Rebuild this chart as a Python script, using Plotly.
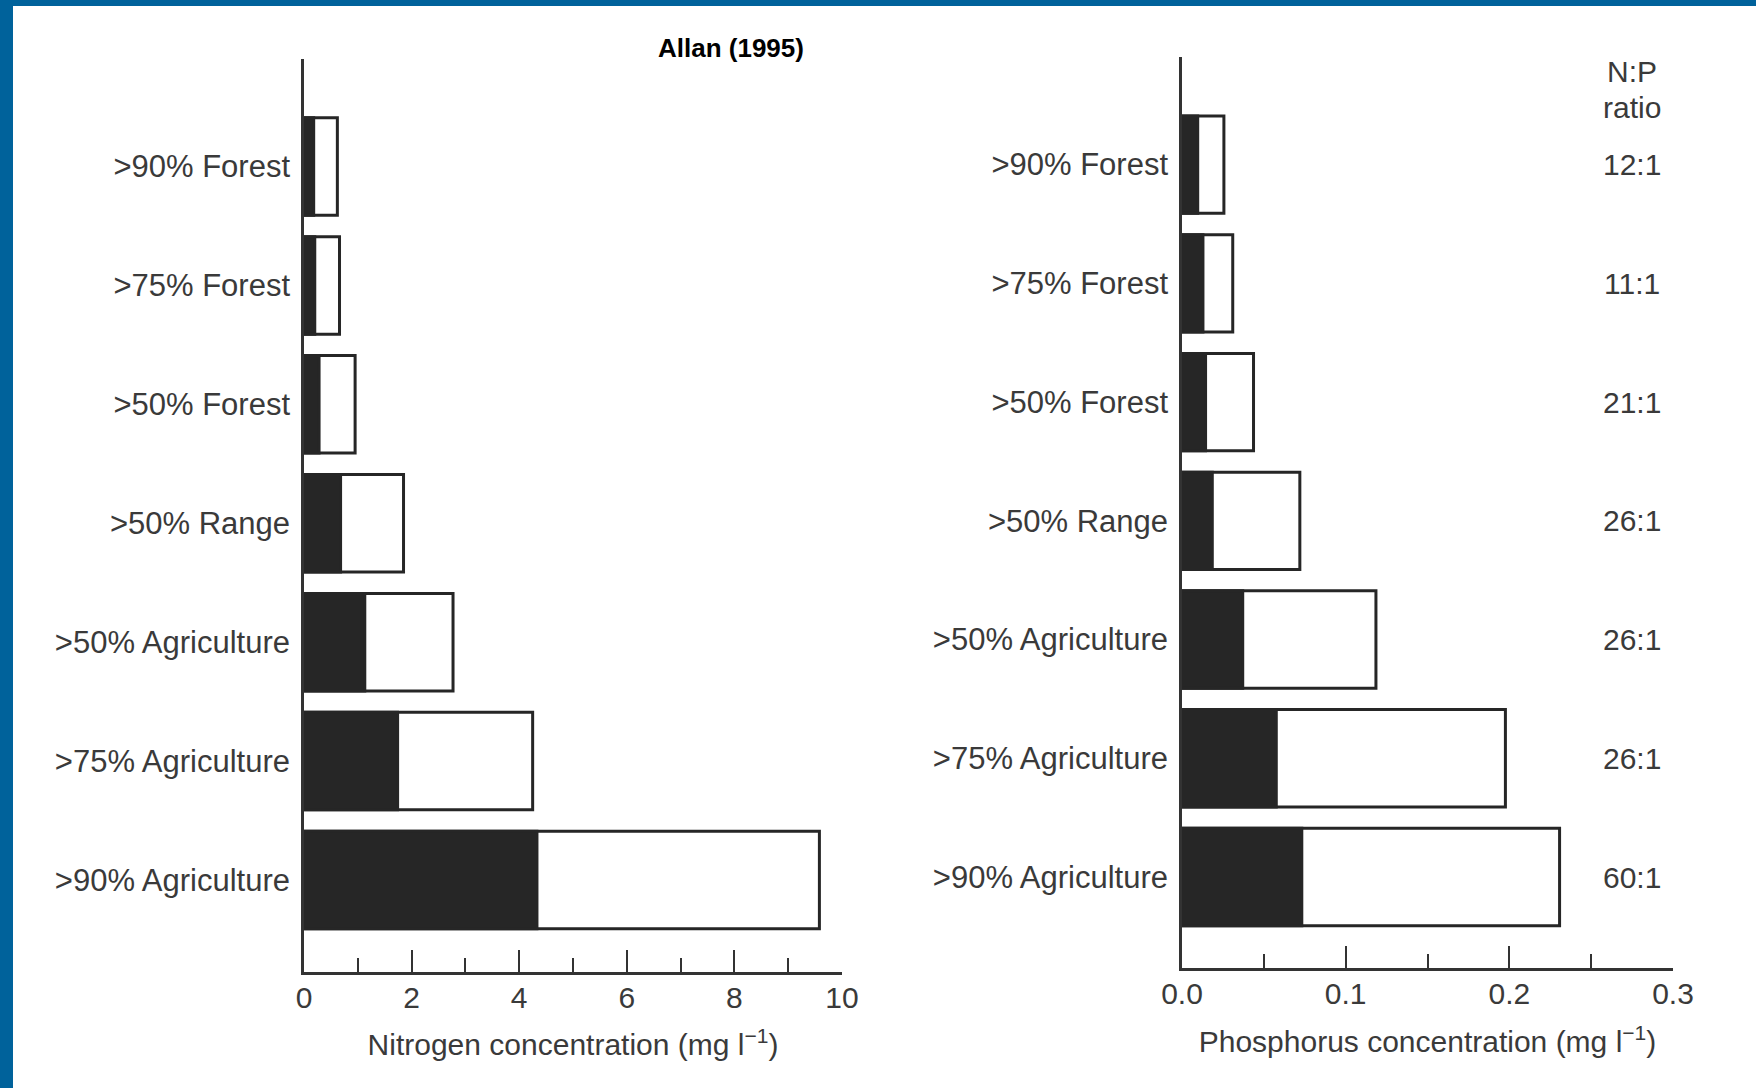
import plotly.graph_objects as go

categories = [">90% Forest", ">75% Forest", ">50% Forest", ">50% Range",
              ">50% Agriculture", ">75% Agriculture", ">90% Agriculture"]
positions = [0, 1, 2, 3, 4, 5, 6]

# Nitrogen (mg/l): dark part and total bar length
n_dark = [0.18, 0.20, 0.28, 0.68, 1.13, 1.74, 4.33]
n_total = [0.62, 0.66, 0.95, 1.85, 2.77, 4.25, 9.58]

# Phosphorus (mg/l): dark part and total bar length
p_dark = [0.0096, 0.0128, 0.0144, 0.0185, 0.0371, 0.0576, 0.0732]
p_total = [0.0256, 0.0310, 0.0437, 0.0720, 0.1185, 0.1976, 0.2307]

np_ratio = ["12:1", "11:1", "21:1", "26:1", "26:1", "26:1", "60:1"]

n_ticks = [0, 2, 4, 6, 8, 10]
p_ticks = [0.0, 0.1, 0.2, 0.3]

W, H = 1756, 1088
FONT = "Liberation Sans, Arial, Helvetica, sans-serif"
TXT = "#3a3a3a"
INK = "#262626"
BAR_W = 0.82
FS = 30

fig = go.Figure()

def add_bars(xd, xt, xa, ya):
    fig.add_trace(go.Bar(y=positions, x=xt, orientation="h", width=BAR_W,
                         marker=dict(color="white", line=dict(color=INK, width=3)),
                         xaxis=xa, yaxis=ya, showlegend=False, hoverinfo="x"))
    fig.add_trace(go.Bar(y=positions, x=xd, orientation="h", width=BAR_W,
                         marker=dict(color=INK, line=dict(color=INK, width=3)),
                         xaxis=xa, yaxis=ya, showlegend=False, hoverinfo="x"))

add_bars(n_dark, n_total, "x", "y")
add_bars(p_dark, p_total, "x2", "y2")

def px(x):
    return x / W

def py(y):
    return 1 - y / H

common_x = dict(showline=True, linecolor="#333333", linewidth=2.5, showgrid=False,
                zeroline=False, ticks="inside", ticklen=22, tickwidth=2,
                tickcolor="#333333", ticklabelstandoff=-3, automargin=False,
                tickfont=dict(family=FONT, size=FS, color=TXT))
common_y = dict(showline=True, linecolor="#333333", linewidth=2.5, showgrid=False,
                zeroline=False, ticks="", tickvals=positions, ticktext=categories,
                ticklabelstandoff=5, automargin=False,
                tickfont=dict(family=FONT, size=31, color=TXT))

fig.update_layout(
    width=W, height=H, margin=dict(l=0, r=0, t=0, b=0, autoexpand=False),
    paper_bgcolor="white", plot_bgcolor="white", barmode="overlay",
    xaxis=dict(common_x, domain=[px(304), px(842)], range=[0, 10],
               tickvals=n_ticks, ticktext=[str(t) for t in n_ticks],
               minor=dict(dtick=1, ticks="inside", ticklen=14, tickwidth=2, tickcolor="#333333"),
               anchor="y",
               title=dict(text="Nitrogen concentration (mg l<sup>\u22121</sup>)", standoff=22,
                          font=dict(family=FONT, size=FS, color=TXT))),
    yaxis=dict(common_y, domain=[py(972), py(59)], range=[6.774, -0.904], anchor="x"),
    xaxis2=dict(common_x, domain=[px(1182), px(1673)], range=[0, 0.3],
                tickvals=p_ticks, ticktext=["%.1f" % t for t in p_ticks],
                minor=dict(dtick=0.05, ticks="inside", ticklen=14, tickwidth=2, tickcolor="#333333"),
                anchor="y2",
                title=dict(text="Phosphorus concentration (mg l<sup>\u22121</sup>)", standoff=23,
                           font=dict(family=FONT, size=FS, color=TXT))),
    yaxis2=dict(common_y, domain=[py(968), py(57)], range=[6.766, -0.906], anchor="x2"),
)

def ann(text, x, y, yref="paper", size=FS, color=TXT):
    return dict(text=text, x=x, y=y, xref="paper", yref=yref, showarrow=False,
                xanchor="center", yanchor="middle",
                font=dict(family=FONT, size=size, color=color))

annotations = [
    ann("<b>Allan (1995)</b>", px(731), py(48), size=26, color="black"),
    ann("N:P", px(1632), py(72)),
    ann("ratio", px(1632), py(108)),
]
for pos, r in zip(positions, np_ratio):
    annotations.append(ann(r, px(1632), pos, yref="y2"))
fig.update_layout(annotations=annotations)

BLUE = "#00629b"
fig.update_layout(shapes=[
    dict(type="rect", xref="paper", yref="paper", x0=0, x1=px(13), y0=0, y1=1,
         fillcolor=BLUE, line=dict(width=0), layer="above"),
    dict(type="rect", xref="paper", yref="paper", x0=0, x1=1, y0=py(6), y1=1,
         fillcolor=BLUE, line=dict(width=0), layer="above"),
])

fig.write_html("out.html")
